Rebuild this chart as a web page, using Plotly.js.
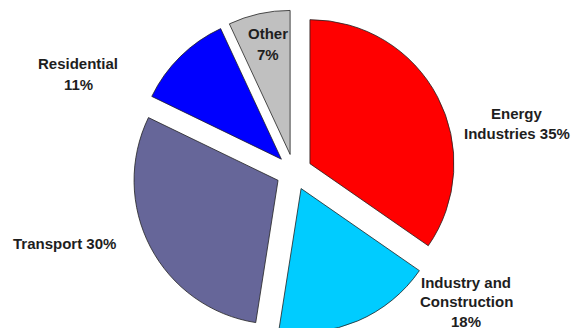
<!DOCTYPE html>
<html>
<head>
<meta charset="utf-8">
<script src="https://cdn.plot.ly/plotly-3.0.1.min.js"></script>
<style>
  html, body { margin: 0; padding: 0; overflow: hidden; background: #fff; }
  #chart { width: 575px; height: 340px; }
</style>
</head>
<body>
<div id="chart"></div>
<script>
// ---- data ----
const labels = ['Energy Industries', 'Industry and Construction', 'Transport', 'Residential', 'Other'];
const values = [35, 18, 30, 11, 7];
const colors = ['#FF0000', '#00CCFF', '#666699', '#0000FF', '#C0C0C0'];
const labelLines = [['Energy', 'Industries'], ['Industry and', 'Construction'], ['Transport'], ['Residential'], ['Other']];
const pctOnOwnLine = [false, true, false, true, true];

// ---- layout constants ----
const W = 575, H = 340;
const labelPos = [[517, 114], [466, 282], [64, 243], [78, 63], [268, 34]];
const lineGaps = [20, 19.5, 20, 21, 21];
const cx = 294, cy = 172, r = 144, pull = 0.125;
const half = r * (1 + pull);

const total = values.reduce((a, b) => a + b, 0);
const annotations = [];
labels.forEach((lab, i) => {
  const pct = Math.round(values[i] / total * 100) + '%';
  const lines = labelLines[i].slice();
  if (pctOnOwnLine[i]) lines.push(pct);
  else lines[lines.length - 1] = lines[lines.length - 1] + ' ' + pct;
  lines.forEach((t, k) => {
    annotations.push({
      text: t,
      xref: 'paper', yref: 'paper',
      x: labelPos[i][0] / W,
      y: 1 - (labelPos[i][1] + k * lineGaps[i]) / H,
      xanchor: 'center', yanchor: 'middle',
      showarrow: false,
      font: { family: 'Liberation Sans, Arial, sans-serif', size: 15, color: '#1e1e1e', weight: 'bold' }
    });
  });
});

const trace = {
  type: 'pie',
  labels: labels,
  values: values,
  sort: false,
  direction: 'clockwise',
  rotation: 0,
  pull: values.map(() => pull),
  marker: { colors: colors, line: { color: '#222222', width: 0.8 } },
  textinfo: 'none',
  hoverinfo: 'none',
  showlegend: false,
  domain: {
    x: [(cx - half) / W, (cx + half) / W],
    y: [1 - (cy + half) / H, 1 - (cy - half) / H]
  }
};

const layout = {
  width: W, height: H,
  margin: { l: 0, r: 0, t: 0, b: 0 },
  paper_bgcolor: '#ffffff',
  plot_bgcolor: '#ffffff',
  showlegend: false,
  annotations: annotations
};

Plotly.newPlot('chart', [trace], layout, { displayModeBar: false, staticPlot: true });
</script>
</body>
</html>
